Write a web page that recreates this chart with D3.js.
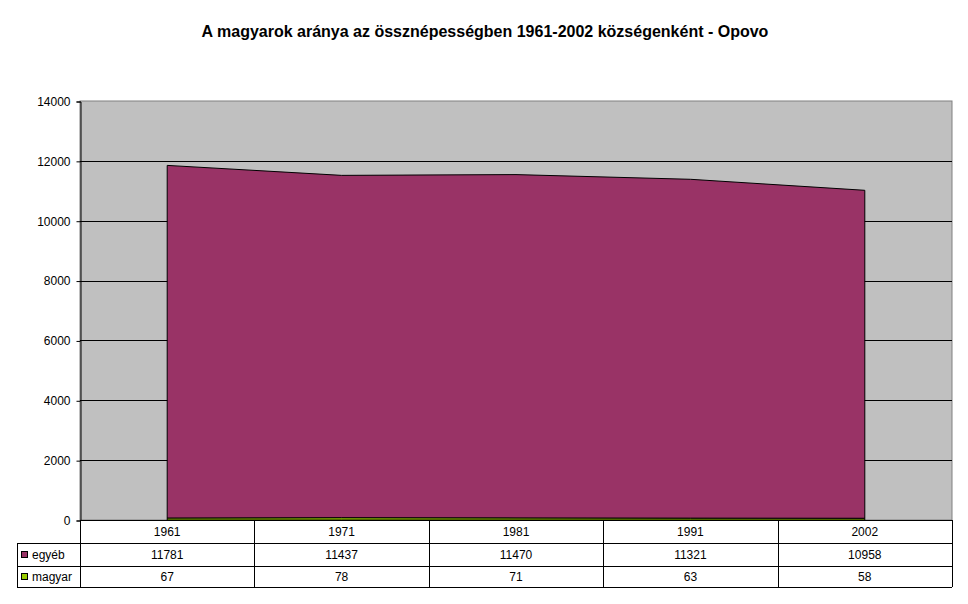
<!DOCTYPE html>
<html>
<head>
<meta charset="utf-8">
<script src="https://cdn.jsdelivr.net/npm/d3@7"></script>
<style>
  body { margin: 0; background: #fff; }
  text { font-family: Arial, 'Liberation Sans', sans-serif; }
</style>
</head>
<body>
<div id="chart"></div>
<script>
const years = ['1961', '1971', '1981', '1991', '2002']
const egyeb = [11781, 11437, 11470, 11321, 10958]
const magyar = [67, 78, 71, 63, 58]
const yTicks = [0, 2000, 4000, 6000, 8000, 10000, 12000, 14000]
const title = 'A magyarok aránya az össznépességben 1961-2002 községenként - Opovo'

const width = 968
const height = 604
const plot = { left: 80, right: 952, top: 101, bottom: 520 }
const rows = [520, 543, 566, 587]
const legendLeft = 17

const series = [
  { name: 'egyéb', values: egyeb, color: '#993366' },
  { name: 'magyar', values: magyar, color: '#99CC00' }
]

const svg = d3.select('#chart').append('svg')
  .attr('width', width)
  .attr('height', height)

svg.append('text')
  .attr('x', 485)
  .attr('y', 37)
  .attr('text-anchor', 'middle')
  .style('font-size', '16px')
  .style('font-weight', 'bold')
  .text(title)

let x = d3.scaleBand().domain(years).range([plot.left, plot.right])
let y = d3.scaleLinear().domain([0, 14000]).range([plot.bottom, plot.top])

// plot background
svg.append('rect')
  .attr('x', plot.left)
  .attr('y', plot.top)
  .attr('width', plot.right - plot.left)
  .attr('height', plot.bottom - plot.top)
  .attr('fill', '#C0C0C0')
  .attr('stroke', '#808080')

// gridlines
svg.append('g').selectAll('line')
  .data(yTicks.filter(d => d > 0 && d < 14000))
  .enter().append('line')
  .attr('x1', plot.left)
  .attr('x2', plot.right)
  .attr('y1', d => Math.round(y(d)) + 0.5)
  .attr('y2', d => Math.round(y(d)) + 0.5)
  .attr('stroke', '#000')

// stacked areas: magyar at the bottom, egyéb on top
let table = years.map((yr, i) => ({ year: yr, magyar: magyar[i], egyeb: egyeb[i] }))
let stack = d3.stack().keys(['magyar', 'egyeb'])(table)
let colors = { magyar: '#99CC00', egyeb: '#993366' }

let area = d3.area()
  .x(d => x(d.data.year) + x.bandwidth() / 2)
  .y0(d => y(d[0]))
  .y1(d => y(d[1]))

svg.append('g').selectAll('path')
  .data(stack)
  .enter().append('path')
  .attr('d', area)
  .attr('fill', d => colors[d.key])
  .attr('stroke', '#000')
  .attr('stroke-width', 1)

// y axis
let yAxis = svg.append('g')
  .attr('transform', 'translate(' + (plot.left + 0.5) + ',0.5)')
  .call(d3.axisLeft(y).tickValues(yTicks).tickSize(4).tickPadding(6).tickFormat(d3.format('d')))
yAxis.select('.domain').attr('stroke', '#000')
yAxis.selectAll('.tick line').attr('stroke', '#000')
yAxis.selectAll('.tick text')
  .style('font-size', '12px')
  .style('font-family', 'Arial, Liberation Sans, sans-serif')
  .attr('fill', '#000')

// data table
let tg = svg.append('g').attr('shape-rendering', 'crispEdges')
tg.append('line')
  .attr('x1', plot.left).attr('x2', plot.right)
  .attr('y1', rows[0] + 0.5).attr('y2', rows[0] + 0.5)
  .attr('stroke', '#000')
rows.slice(1).forEach(r => {
  tg.append('line')
    .attr('x1', legendLeft).attr('x2', plot.right)
    .attr('y1', r + 0.5).attr('y2', r + 0.5)
    .attr('stroke', '#000')
})
tg.append('line')
  .attr('x1', legendLeft + 0.5).attr('x2', legendLeft + 0.5)
  .attr('y1', rows[1]).attr('y2', rows[3])
  .attr('stroke', '#000')
let colEdges = years.map(d => x(d)).concat([plot.right])
tg.selectAll('.col')
  .data(colEdges)
  .enter().append('line')
  .attr('x1', d => Math.round(d) + 0.5)
  .attr('x2', d => Math.round(d) + 0.5)
  .attr('y1', rows[0])
  .attr('y2', rows[3])
  .attr('stroke', '#000')

tg.selectAll('.yr')
  .data(years)
  .enter().append('text')
  .attr('x', d => x(d) + x.bandwidth() / 2)
  .attr('y', (rows[0] + rows[1]) / 2 + 4)
  .attr('text-anchor', 'middle')
  .style('font-size', '12px')
  .text(d => d)

series.forEach((s, si) => {
  let top = rows[si + 1]
  let bot = rows[si + 2]
  let mid = (top + bot) / 2
  tg.append('rect')
    .attr('x', 21.5)
    .attr('y', Math.round(mid) - 3.5)
    .attr('width', 6)
    .attr('height', 6)
    .attr('fill', s.color)
    .attr('stroke', '#000')
  tg.append('text')
    .attr('x', 32)
    .attr('y', mid + 4)
    .style('font-size', '12px')
    .text(s.name)
  tg.selectAll('.v' + si)
    .data(s.values)
    .enter().append('text')
    .attr('x', (d, i) => x(years[i]) + x.bandwidth() / 2)
    .attr('y', mid + 4)
    .attr('text-anchor', 'middle')
    .style('font-size', '12px')
    .text(d => d)
})
</script>
</body>
</html>
